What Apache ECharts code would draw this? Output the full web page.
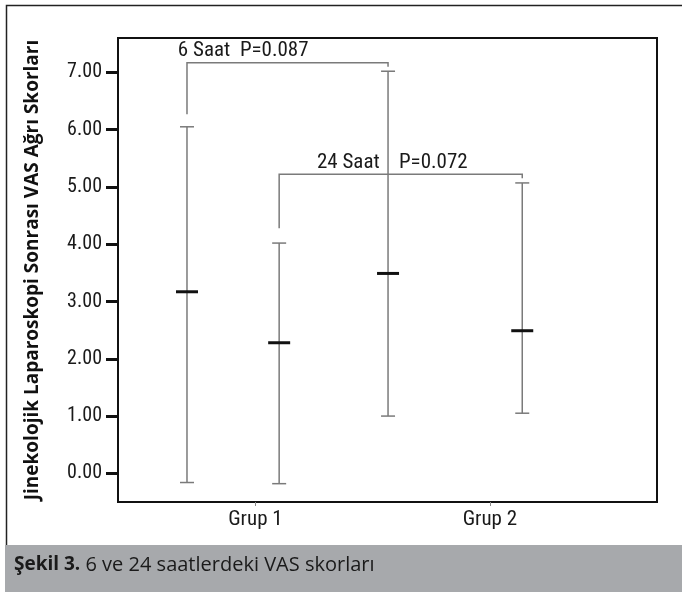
<!DOCTYPE html>
<html>
<head>
<meta charset="utf-8">
<script src="https://cdn.jsdelivr.net/npm/echarts@6/dist/echarts.min.js"></script>
<style>
  html, body { margin: 0; padding: 0; background: #fff; }
  #palarmcon { width: 682px; height: 592px; }
</style>
</head>
<body>
<div id="palarmcon"></div>
<script>
// gruplar ve saatler
var groups = ['Grup 1', 'Grup 2'];
var times = ['6 Saat', '24 Saat'];

// ortalama ve hata çubuğu uçları (grup sırasıyla)
var means6 = [3.17, 3.49];
var lows6 = [-0.16, 1.00];
var highs6 = [6.05, 7.02];
var means24 = [2.28, 2.49];
var lows24 = [-0.18, 1.05];
var highs24 = [4.02, 5.07];

// karşılaştırma p değerleri
var pValues = ['0.087', '0.072'];

// y ekseni etiketleri
var yTicks = [0, 1, 2, 3, 4, 5, 6, 7];

// yerleşim (x ekseni 0..10)
var groupX = [2.55, 6.9];
var barX6 = [1.28, 5.01];
var barX24 = [2.99, 7.5];
var bracketTop = [7.17, 5.22];
var bracketLeftFrom = [6.27, 4.28];
var bracketRightTo = [7.10, 5.15];
var labelX = [1.11, 3.69];

var condensed = '"Roboto Condensed", "DejaVu Sans Condensed", sans-serif';
var wide = '"Open Sans", sans-serif';

var myChart = echarts.init(document.getElementById('palarmcon'));

var barData = [];
for (var i = 0; i < groups.length; i++) {
    barData.push([barX6[i], lows6[i], highs6[i], means6[i]]);
    barData.push([barX24[i], lows24[i], highs24[i], means24[i]]);
}

var bracketData = [];
for (var i = 0; i < times.length; i++) {
    var x2 = i === 0 ? barX6[1] : barX24[1];
    var x1 = i === 0 ? barX6[0] : barX24[0];
    bracketData.push([x1, x2, bracketLeftFrom[i], bracketTop[i], bracketRightTo[i], labelX[i], i]);
}

myChart.setOption({
    animation: false,
    graphic: [
        {
            type: 'rect',
            left: 4, top: 3,
            shape: { width: 700, height: 620 },
            style: { fill: 'none', stroke: '#222', lineWidth: 1.5 },
            z: 0
        },
        {
            type: 'rect',
            left: 5, top: 545,
            shape: { width: 690, height: 60 },
            style: { fill: '#a7a9ac' },
            z: 1
        },
        {
            type: 'text',
            left: 14, top: 555,
            style: {
                text: '{b|Şekil 3.}{n| 6 ve 24 saatlerdeki VAS skorları}',
                fill: '#1a1a1a',
                rich: {
                    b: { fontWeight: 'bold', fontSize: 19, fontFamily: wide, fill: '#1a1a1a' },
                    n: { fontSize: 20, fontFamily: wide, fill: '#1a1a1a' }
                }
            },
            z: 2
        }
    ],
    grid: {
        left: 118, right: 25, top: 38, bottom: 90,
        show: true, borderColor: '#111', borderWidth: 2, backgroundColor: 'transparent'
    },
    xAxis: {
        type: 'value',
        min: 0, max: 10,
        splitLine: { show: false },
        axisLine: { show: true, onZero: false, lineStyle: { color: '#111', width: 2 } },
        axisTick: { show: true, customValues: groupX, length: 4, lineStyle: { color: '#888', width: 1 } },
        axisLabel: {
            customValues: groupX,
            color: '#1a1a1a',
            fontSize: 21,
            fontFamily: condensed,
            margin: 7,
            formatter: function (v) {
                for (var k = 0; k < groupX.length; k++) {
                    if (Math.abs(groupX[k] - v) < 0.01) return groups[k];
                }
                return '';
            }
        }
    },
    yAxis: {
        type: 'value',
        min: -0.5, max: 7.6,
        name: 'Jinekolojik Laparoskopi Sonrası VAS Ağrı Skorları',
        nameLocation: 'middle',
        nameRotate: 90,
        nameGap: 76,
        nameTextStyle: { fontSize: 19, fontWeight: 'bold', color: '#111', fontFamily: wide },
        splitLine: { show: false },
        axisLine: { show: true, onZero: false, lineStyle: { color: '#111', width: 2 } },
        axisTick: { show: true, customValues: yTicks, length: 12, lineStyle: { color: '#111', width: 3 } },
        axisLabel: {
            customValues: yTicks,
            color: '#1a1a1a',
            fontSize: 20,
            fontFamily: condensed,
            margin: 16,
            formatter: function (v) { return v.toFixed(2); }
        }
    },
    series: [
        {
            type: 'custom',
            name: 'hata',
            data: barData,
            encode: { x: 0, y: [1, 2, 3] },
            renderItem: function (params, api) {
                var x = api.value(0);
                var lo = api.coord([x, api.value(1)]);
                var hi = api.coord([x, api.value(2)]);
                var mid = api.coord([x, api.value(3)]);
                var gray = { stroke: '#7a7a7a', lineWidth: 1.5 };
                return {
                    type: 'group',
                    children: [
                        { type: 'line', shape: { x1: lo[0], y1: lo[1], x2: hi[0], y2: hi[1] }, style: gray },
                        { type: 'line', shape: { x1: hi[0] - 7, y1: hi[1], x2: hi[0] + 7, y2: hi[1] }, style: gray },
                        { type: 'line', shape: { x1: lo[0] - 7, y1: lo[1], x2: lo[0] + 7, y2: lo[1] }, style: gray },
                        { type: 'line', shape: { x1: mid[0] - 11, y1: mid[1], x2: mid[0] + 11, y2: mid[1] }, style: { stroke: '#111', lineWidth: 3 } }
                    ]
                };
            },
            z: 3
        },
        {
            type: 'custom',
            name: 'karşılaştırma',
            data: bracketData,
            encode: { x: [0, 1], y: [2, 3, 4] },
            renderItem: function (params, api) {
                var x1 = api.value(0), x2 = api.value(1);
                var a = api.coord([x1, api.value(2)]);
                var b = api.coord([x1, api.value(3)]);
                var c = api.coord([x2, api.value(3)]);
                var d = api.coord([x2, api.value(4)]);
                var t = api.coord([api.value(5), api.value(3)]);
                var idx = api.value(6);
                var sep = idx === 0 ? '  ' : '    ';
                return {
                    type: 'group',
                    children: [
                        { type: 'polyline', shape: { points: [a, b, c, d] }, style: { stroke: '#7a7a7a', lineWidth: 1.5, fill: 'none' } },
                        {
                            type: 'text',
                            x: t[0], y: b[1] - 1,
                            style: {
                                text: times[idx] + sep + 'P=' + pValues[idx],
                                font: '21px ' + condensed,
                                fill: '#1a1a1a',
                                textAlign: 'left',
                                textVerticalAlign: 'bottom'
                            }
                        }
                    ]
                };
            },
            z: 4
        }
    ]
});
</script>
</body>
</html>
